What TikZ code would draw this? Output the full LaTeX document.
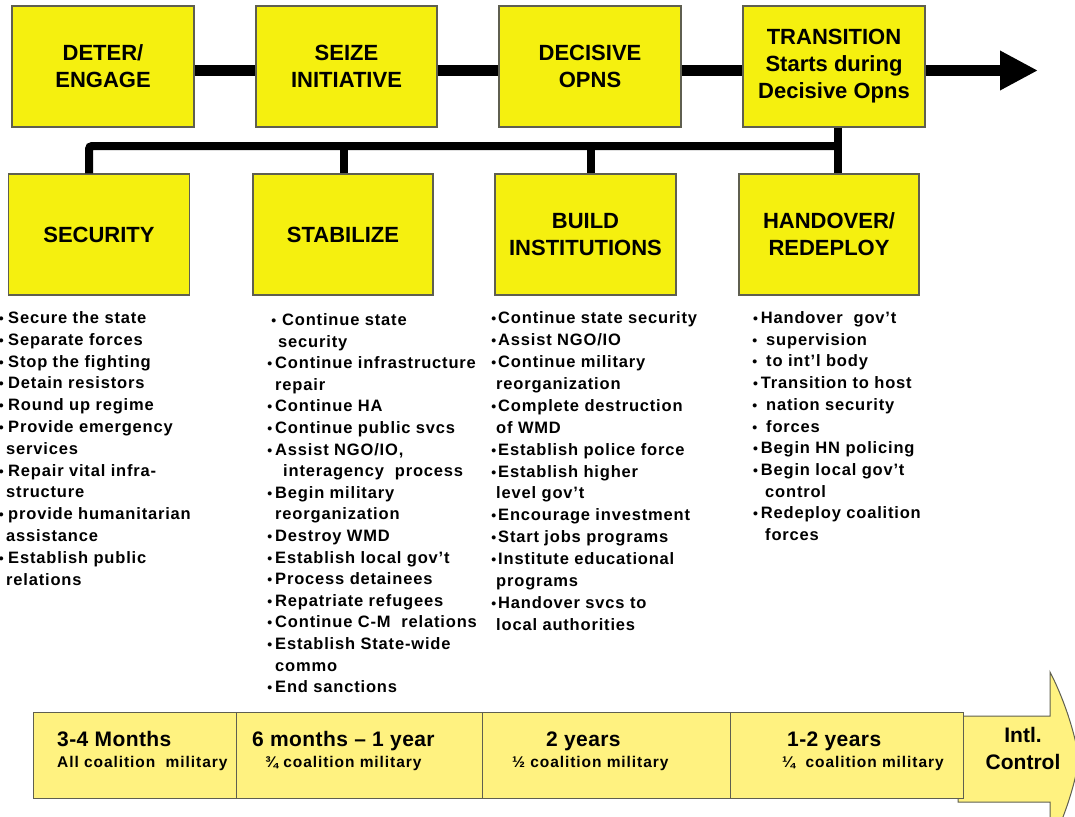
\documentclass[tikz,border=0pt]{standalone}
\usepackage{fontspec}
\setmainfont{Liberation Sans}
\usetikzlibrary{arrows.meta}
\definecolor{boxyellow}{RGB}{245,240,15}
\definecolor{boxline}{RGB}{95,95,80}
\definecolor{tlyellow}{RGB}{255,242,128}
\newcommand{\bul}{{\fontsize{14}{14}\selectfont •}}
\newcommand{\hb}[1]{\llap{\bul\hspace{#1}}}
\tikzset{
  bigbox/.style={draw=boxline, fill=boxyellow, line width=1.2pt, align=center, inner sep=0pt,
    font=\fontsize{22}{27}\selectfont\bfseries},
  conn/.style={line width=10.5pt, black},
  bus/.style={line width=8pt, black},
  itemtext/.style={anchor=base west, inner sep=0pt,
    font=\fontsize{16.5}{20}\selectfont\bfseries\addfontfeature{LetterSpace=5}},
  cell/.style={draw=boxline, fill=tlyellow, line width=1pt, inner sep=0pt, minimum height=86pt},
  tlmain/.style={anchor=base west, inner sep=0pt,
    font=\fontsize{21}{24}\selectfont\bfseries\addfontfeature{LetterSpace=2}},
  tlsub/.style={anchor=base west, inner sep=0pt,
    font=\fontsize{15.5}{18}\selectfont\bfseries\addfontfeature{LetterSpace=6}},
  tlend/.style={anchor=base, inner sep=0pt,
    font=\fontsize{21}{24}\selectfont\bfseries},
}
\begin{document}
\begin{tikzpicture}[x=1pt,y=-1pt]
\useasboundingbox (0,0) rectangle (1075,816);

% top row
\node[bigbox, minimum width=182pt, minimum height=121pt] (b1) at (103,66.5) {DETER/\\ENGAGE};
\node[bigbox, minimum width=181pt, minimum height=121pt] (b2) at (346.5,66.5) {SEIZE\\INITIATIVE};
\node[bigbox, minimum width=182pt, minimum height=121pt] (b3) at (590,66.5) {DECISIVE\\OPNS};
\node[bigbox, minimum width=182pt, minimum height=121pt] (b4) at (834,66.5) {TRANSITION\\Starts during\\Decisive Opns};
\coordinate (tip) at (1038,70.5);

% second row
\node[bigbox, minimum width=180.5pt, minimum height=121pt] (s1) at (99,234.5) {SECURITY};
\node[bigbox, minimum width=180pt, minimum height=121pt] (s2) at (343,234.5) {STABILIZE};
\node[bigbox, minimum width=181pt, minimum height=121pt] (s3) at (585.5,234.5) {BUILD\\INSTITUTIONS};
\node[bigbox, minimum width=180pt, minimum height=121pt] (s4) at (829,234.5) {HANDOVER/\\REDEPLOY};

% connectors
\draw[conn] ([yshift=-4pt]b1.east) -- ([yshift=-4pt]b2.west);
\draw[conn] ([yshift=-4pt]b2.east) -- ([yshift=-4pt]b3.west);
\draw[conn] ([yshift=-4pt]b3.east) -- ([yshift=-4pt]b4.west);
\draw[conn, -{Triangle[length=38pt,width=37pt]}] ([yshift=-4pt]b4.east) -- (tip);

\coordinate (busL) at (89,146);
\coordinate (busR) at (838,146);
\coordinate (d2) at (344,146);
\coordinate (d3) at (591,146);
\draw[bus, rounded corners=3pt] (s1.north -| busL) -- (busL) -- (busR);
\draw[bus] (b4.south -| busR) -- (s4.north -| busR);
\draw[bus] (d2) -- (s2.north -| d2);
\draw[bus] (d3) -- (s3.north -| d3);

% column 1
\foreach \xx/\t [count=\i from 0] in {
  8/{\hb{4.5pt}Secure the state},
  8/{\hb{4.5pt}Separate forces},
  8/{\hb{4.5pt}Stop the fighting},
  8/{\hb{4.5pt}Detain resistors},
  8/{\hb{4.5pt}Round up regime},
  8/{\hb{4.5pt}Provide emergency},
  6/{services},
  8/{\hb{4.5pt}Repair vital infra-},
  6/{structure},
  8/{\hb{4.5pt}provide humanitarian},
  6/{assistance},
  8/{\hb{4.5pt}Establish public},
  6/{relations}}
  \node[itemtext] (c1-\i) at (\xx, 323.5+21.8*\i) {\t};

% column 2
\foreach \xx/\t [count=\i from 0] in {
  282/{\hb{6pt}Continue state},
  278/{security},
  275/{\hb{3pt}Continue infrastructure},
  275/{repair},
  275/{\hb{3pt}Continue HA},
  275/{\hb{3pt}Continue public svcs},
  275/{\hb{3pt}Assist NGO/IO,},
  283/{interagency\ \ process},
  275/{\hb{3pt}Begin military},
  275/{reorganization},
  275/{\hb{3pt}Destroy WMD},
  275/{\hb{3pt}Establish local gov't},
  275/{\hb{3pt}Process detainees},
  275/{\hb{3pt}Repatriate refugees},
  275/{\hb{3pt}Continue C-M\ \ relations},
  275/{\hb{3pt}Establish State-wide},
  275/{commo},
  275/{\hb{3pt}End sanctions}}
  \node[itemtext] (c2-\i) at (\xx, 325.5+21.6*\i) {\t};

% column 3
\foreach \xx/\t [count=\i from 0] in {
  498/{\hb{2pt}Continue state security},
  498/{\hb{2pt}Assist NGO/IO},
  498/{\hb{2pt}Continue military},
  496/{reorganization},
  498/{\hb{2pt}Complete destruction},
  496/{of WMD},
  498/{\hb{2pt}Establish police force},
  498/{\hb{2pt}Establish higher},
  496/{level gov't},
  498/{\hb{2pt}Encourage investment},
  498/{\hb{2pt}Start jobs programs},
  498/{\hb{2pt}Institute educational},
  496/{programs},
  498/{\hb{2pt}Handover svcs to},
  496/{local authorities}}
  \node[itemtext] (c3-\i) at (\xx, 323.5+21.93*\i) {\t};

% column 4
\foreach \xx/\t [count=\i from 0] in {
  760.7/{\hb{3pt}Handover\ \ gov't},
  766/{\hb{9pt}supervision},
  766/{\hb{9pt}to int'l body},
  760.7/{\hb{3pt}Transition to host},
  766/{\hb{9pt}nation security},
  766/{\hb{9pt}forces},
  760.7/{\hb{3pt}Begin HN policing},
  760.7/{\hb{3pt}Begin local gov't},
  765/{control},
  760.7/{\hb{3pt}Redeploy coalition},
  765/{forces}}
  \node[itemtext] (c4-\i) at (\xx, 323.5+21.7*\i) {\t};

% timeline arrow
\begin{scope}
\clip (0,0) rectangle (1075,816);
\path[draw=boxline, fill=tlyellow, line width=1pt]
  (958,716) -- (1050,716) -- (1050,672)
  .. controls (1062,695) and (1074,728) .. (1079,759)
  .. controls (1074,790) and (1062,823) .. (1050,846)
  -- (1050,802) -- (958,802) -- cycle;
\end{scope}

% timeline cells
\node[cell, minimum width=203pt] (tl1) at (134.5,755) {};
\node[cell, minimum width=246pt] (tl2) at (359,755) {};
\node[cell, minimum width=248pt] (tl3) at (606,755) {};
\node[cell, minimum width=233pt] (tl4) at (846.5,755) {};

\node[tlmain] (m1) at (57,746) {3-4 Months};
\node[tlsub] (u1) at (57,767) {All coalition\ \ military};
\node[tlmain] (m2) at (252,746) {6 months – 1 year};
\node[tlsub] (u2) at (265,767) {¾ coalition military};
\node[tlmain] (m3) at (546,746) {2 years};
\node[tlsub] (u3) at (512,767) {½ coalition military};
\node[tlmain] (m4) at (787,746) {1-2 years};
\node[tlsub] (u4) at (782,767) {¼\ \ coalition military};
\node[tlend] (e1) at (1023,742) {Intl.};
\node[tlend] (e2) at (1023,769) {Control};
\end{tikzpicture}
\end{document}
